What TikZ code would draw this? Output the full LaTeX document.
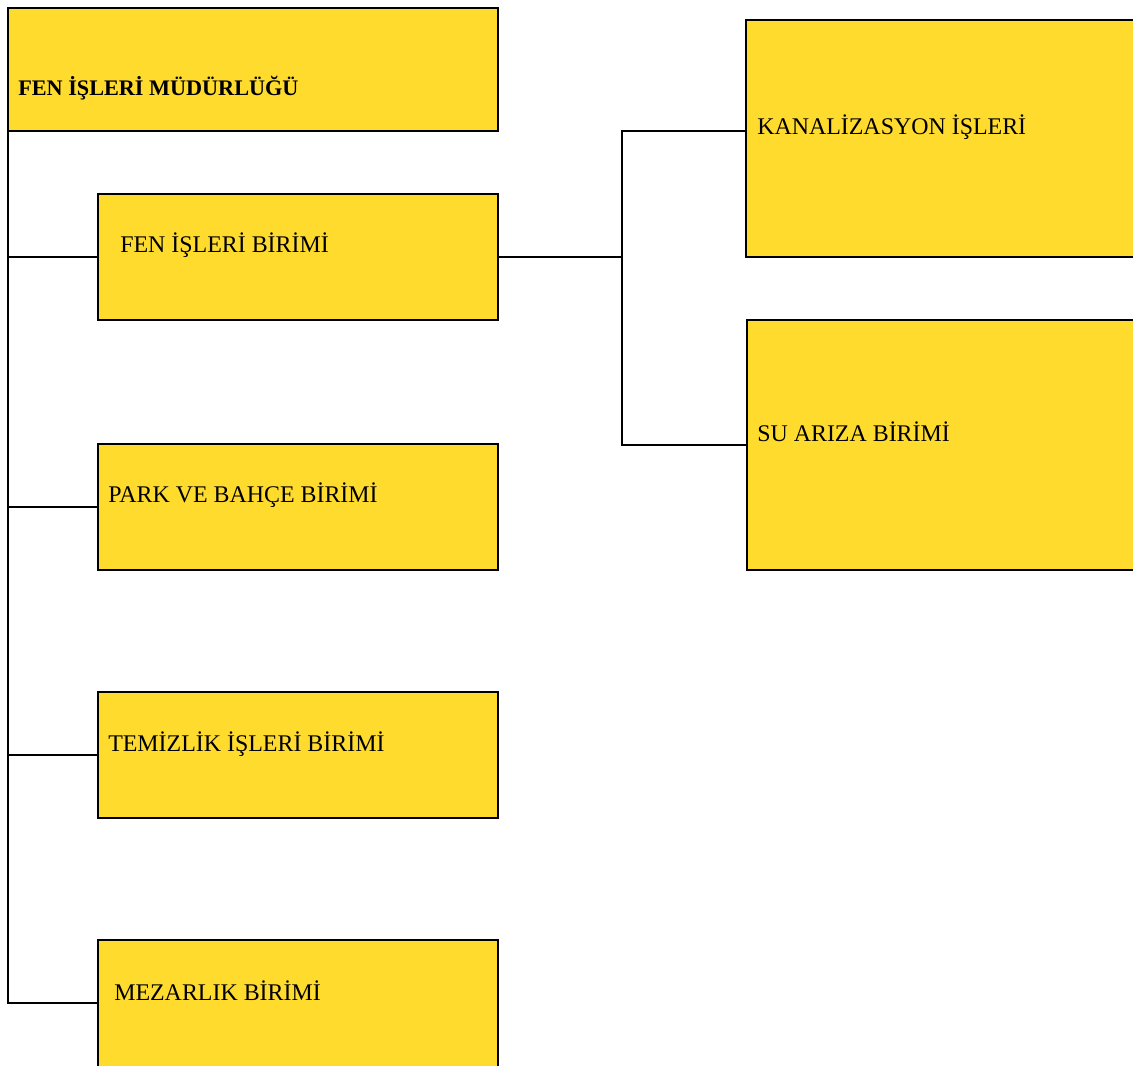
\documentclass[tikz,border=0pt]{standalone}
\usepackage{fontspec}
\setmainfont{Liberation Serif}
\usepackage{tikz}
\usetikzlibrary{fit}
\usepackage{xcolor}
\definecolor{ColBox}{RGB}{255,219,46}
\tikzstyle{BoxOrg}=[draw=black,fill=ColBox,line width=2.1pt,inner sep=0pt,outer sep=0pt]
\tikzstyle{TextOrg}=[anchor=base west,inner sep=0pt,font=\fontsize{17}{20}\selectfont]
\tikzstyle{EdgeOrg}=[black,line width=2.1pt]

\begin{document}
\begin{tikzpicture}[x=0.025cm,y=-0.025cm]
        \useasboundingbox(0,0)rectangle(1133,1066);
        \node[BoxOrg,fit={(8,8)(498,131)}](mud){};
        \node[BoxOrg,fit={(98,194)(498,320)}](fen){};
        \node[BoxOrg,fit={(98,444)(498,570)}](park){};
        \node[BoxOrg,fit={(98,692)(498,818)}](temiz){};
        \node[BoxOrg,fit={(98,940)(498,1080)}](mez){};
        \node[BoxOrg,fit={(746,20)(1145,257)}](kanal){};
        \node[BoxOrg,fit={(747,320)(1145,570)}](su){};
        \node[TextOrg,font=\fontsize{15.8}{19}\selectfont\bfseries](mudT)at(18,95){FEN İŞLERİ MÜDÜRLÜĞÜ};
        \node[TextOrg](fenT)at(120,252){FEN İŞLERİ BİRİMİ};
        \node[TextOrg](parkT)at(108,502){PARK VE BAHÇE BİRİMİ};
        \node[TextOrg](temizT)at(108,751){TEMİZLİK İŞLERİ BİRİMİ};
        \node[TextOrg](mezT)at(114,1000){MEZARLIK BİRİMİ};
        \node[TextOrg](kanalT)at(757,134){KANALİZASYON İŞLERİ};
        \node[TextOrg](suT)at(757,441){SU ARIZA BİRİMİ};
        \coordinate(split)at(622,257);
        \coordinate(mezIn)at(98,1003);
        \draw[EdgeOrg](mud.south west)|-(mezIn);
        \draw[EdgeOrg](mud.south west|-fen.west)--(fen.west);
        \draw[EdgeOrg](mud.south west|-park.west)--(park.west);
        \draw[EdgeOrg](mud.south west|-temiz.west)--(temiz.west);
        \draw[EdgeOrg](fen.east)--(split);
        \draw[EdgeOrg](kanal.west|-mud.south)-|(split)|-(su.west);
    \end{tikzpicture}
\end{document}
